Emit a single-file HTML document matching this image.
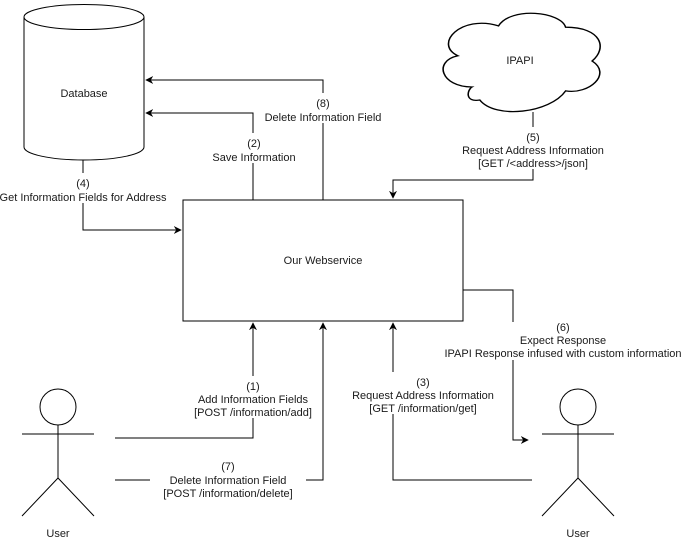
<!DOCTYPE html>
<html><head><meta charset="utf-8"><style>
html,body{margin:0;padding:0;background:#fff;}
svg{display:block;}
text{font-family:"Liberation Sans",Arial,sans-serif;font-size:11px;fill:#1a1a1a;}
</style></head><body>
<svg width="682" height="542" viewBox="0 0 682 542" xmlns="http://www.w3.org/2000/svg">
<defs>
<marker id="a" viewBox="0 0 10 10" refX="9" refY="5" markerWidth="8" markerHeight="8" orient="auto" markerUnits="userSpaceOnUse">
<path d="M0,0 L10,5 L0,10 L3,5 Z" fill="#000"/>
</marker>
</defs>
<!-- label backgrounds -->
<g fill="#fff">
<rect x="240" y="134" width="28" height="28"/>
<rect x="262" y="94" width="122" height="28"/>
<rect x="0" y="174" width="170" height="28"/>
<rect x="460" y="128" width="146" height="40"/>
<rect x="444" y="323" width="238" height="36"/>
<rect x="192" y="377" width="122" height="40"/>
<rect x="150" y="457" width="156" height="40"/>
<rect x="350" y="373" width="148" height="40"/>
</g>
<g fill="none" stroke="#000" stroke-width="1">
<path d="M24,17 L24,147 A60,13 0 0 0 144,147 L144,17"/>
<ellipse cx="84" cy="17" rx="60" ry="12.5" fill="#fff"/>
<path transform="translate(433,9) scale(1.56,1.3)" d="M25 60 C5 60 0 40 16 36 C0 27 18 4 42 13 C50 -2 82 2 85 14 C108 14 112 30 102 40 C115 50 100 66 85 63 C75 80 40 85 30 70 C20 72 22 62 25 60 Z"/>
</g>
<g fill="none" stroke="#000" stroke-width="1">
<path d="M323,200 L323,123 M323,93 L323,80 L146,80" marker-end="url(#a)"/>
<path d="M253,200 L253,163 M253,133 L253,113 L146,113" marker-end="url(#a)"/>
<path d="M83,160 L83,173 M83,203 L83,230 L181,230" marker-end="url(#a)"/>
<path d="M533,112 L533,127 M533,169 L533,180 L393,180 L393,198" marker-end="url(#a)"/>
<path d="M463,290 L513,290 L513,322 M513,360 L513,440 L528,440" marker-end="url(#a)"/>
<path d="M115,438 L253,438 L253,418 M253,376 L253,323" marker-end="url(#a)"/>
<path d="M115,480 L150,480 M306,480 L323,480 L323,323" marker-end="url(#a)"/>
<path d="M532,480 L393,480 L393,414 M393,372 L393,323" marker-end="url(#a)"/>
<rect x="183" y="200" width="280" height="121"/>
<circle cx="58" cy="407" r="18"/>
<path d="M22,434 L94,434 M58,425 L58,478 M58,478 L22,516 M58,478 L94,516"/>
<circle cx="578" cy="407" r="18"/>
<path d="M542,434 L614,434 M578,425 L578,478 M578,478 L542,516 M578,478 L614,516"/>
</g>
<g text-anchor="middle">
<text x="84" y="97">Database</text>
<text x="520" y="64">IPAPI</text>
<text x="323" y="264">Our Webservice</text>
<text x="323" y="107">(8)</text>
<text x="323" y="121">Delete Information Field</text>
<text x="254" y="147">(2)</text>
<text x="254" y="161">Save Information</text>
<text x="83" y="187">(4)</text>
<text x="83" y="201">Get Information Fields for Address</text>
<text x="533" y="141">(5)</text>
<text x="533" y="154">Request Address Information</text>
<text x="533" y="167">[GET /&lt;address&gt;/json]</text>
<text x="563" y="331">(6)</text>
<text x="563" y="344">Expect Response</text>
<text x="563" y="357">IPAPI Response infused with custom information</text>
<text x="253" y="390">(1)</text>
<text x="253" y="403">Add Information Fields</text>
<text x="253" y="416">[POST /information/add]</text>
<text x="228" y="470">(7)</text>
<text x="228" y="484">Delete Information Field</text>
<text x="228" y="497">[POST /information/delete]</text>
<text x="423" y="386">(3)</text>
<text x="423" y="399">Request Address Information</text>
<text x="423" y="412">[GET /information/get]</text>
<text x="58" y="537">User</text>
<text x="578" y="537">User</text>
</g>
</svg>
</body></html>
